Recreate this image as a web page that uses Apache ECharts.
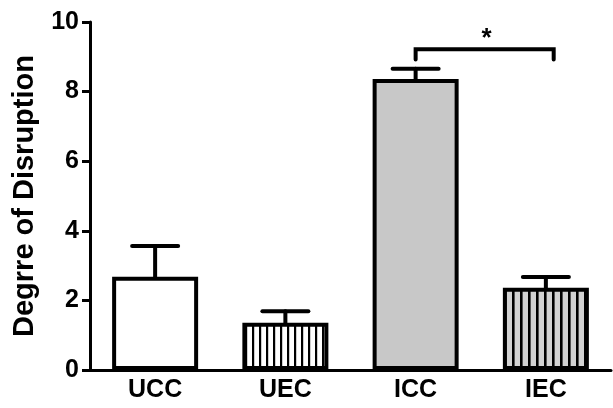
<!DOCTYPE html>
<html>
<head>
<meta charset="utf-8">
<script src="https://cdn.jsdelivr.net/npm/echarts@6/dist/echarts.min.js"></script>
<style>
html,body{margin:0;padding:0;background:#fff;}
#chart{width:613px;height:408px;}
</style>
</head>
<body>
<div id="chart"></div>
<script>
// Data
var categories = ['UCC', 'UEC', 'ICC', 'IEC'];
var means = [2.68, 1.36, 8.36, 2.36];
var errors = [0.88, 0.33, 0.30, 0.31];
var yTicks = [0, 2, 4, 6, 8, 10];
// significance bracket: from category index, to category index (fractional), bar height, leg bottom
var bracketFrom = [2];
var bracketTo = [3.06];
var bracketTop = [9.22];
var bracketLegBottom = [8.92];
var bracketLabel = ['*'];

function stripes(bg, period, lw) {
  var c = document.createElement('canvas');
  c.width = period; c.height = 8;
  var ctx = c.getContext('2d');
  ctx.fillStyle = bg; ctx.fillRect(0, 0, period, 8);
  ctx.fillStyle = '#000'; ctx.fillRect(0, 0, lw, 8);
  return { image: c, repeat: 'repeat' };
}

var fills = ['#ffffff', stripes('#ffffff', 7, 2.2), '#c8c8c8', stripes('#d2d2d2', 8.6, 2.6)];

var chart = echarts.init(document.getElementById('chart'), null, { renderer: 'canvas' });
var font = 'Liberation Sans, Arial, sans-serif';

var barData = means.map(function (v, i) {
  return { value: v, itemStyle: { color: fills[i], borderColor: '#000', borderWidth: 4 } };
});
var errData = means.map(function (v, i) { return [i, v, v + errors[i]]; });
var bracketData = bracketFrom.map(function (f, i) {
  return [f, bracketTo[i], bracketTop[i], bracketLegBottom[i]];
});

chart.setOption({
  animation: false,
  grid: { left: 90, right: 2, top: 22, bottom: 38, containLabel: false, outerBoundsMode: 'none' },
  xAxis: {
    type: 'category',
    data: categories,
    axisLine: { lineStyle: { color: '#000', width: 3 } },
    axisTick: { alignWithLabel: true, length: 7, lineStyle: { color: '#000', width: 3 } },
    axisLabel: { color: '#000', fontFamily: font, fontWeight: 'bold', fontSize: 25, margin: 8 }
  },
  yAxis: {
    type: 'value',
    min: yTicks[0], max: yTicks[yTicks.length - 1], interval: yTicks[1] - yTicks[0],
    name: 'Degrre of Disruption',
    nameLocation: 'middle',
    nameGap: 51,
    nameTextStyle: { color: '#000', fontFamily: font, fontWeight: 'bold', fontSize: 29 },
    axisLine: { show: true, lineStyle: { color: '#000', width: 3 } },
    axisTick: { show: true, length: 8, lineStyle: { color: '#000', width: 3 } },
    axisLabel: { color: '#000', fontFamily: font, fontWeight: 'bold', fontSize: 25, margin: 11 },
    splitLine: { show: false }
  },
  series: [
    {
      type: 'bar',
      data: barData,
      barWidth: 86,
      z: 2
    },
    {
      type: 'custom',
      z: 3,
      data: errData,
      renderItem: function (params, api) {
        var x = api.value(0);
        var p0 = api.coord([x, api.value(1)]);
        var p1 = api.coord([x, api.value(2)]);
        var half = 23;
        var st = { stroke: '#000', lineWidth: 4, lineCap: 'round' };
        return {
          type: 'group',
          children: [
            { type: 'line', shape: { x1: p0[0], y1: p0[1], x2: p1[0], y2: p1[1] }, style: st },
            { type: 'line', shape: { x1: p1[0] - half, y1: p1[1], x2: p1[0] + half, y2: p1[1] }, style: st }
          ]
        };
      }
    },
    {
      type: 'custom',
      z: 3,
      data: bracketData,
      renderItem: function (params, api) {
        var band = api.size([1, 0])[0];
        function xPos(v) {
          var b = Math.floor(v);
          return api.coord([b, 0])[0] + (v - b) * band;
        }
        var xa = xPos(api.value(0));
        var xb = xPos(api.value(1));
        var yt = api.coord([0, api.value(2)])[1];
        var yl = api.coord([0, api.value(3)])[1];
        var st = { stroke: '#000', lineWidth: 4, lineCap: 'round', lineJoin: 'miter', fill: null };
        return {
          type: 'group',
          children: [
            { type: 'polyline', shape: { points: [[xa, yl], [xa, yt], [xb, yt], [xb, yl]] }, style: st },
            { type: 'text', style: { text: bracketLabel[params.dataIndex], x: (xa + xb) / 2 + 2, y: yt + 3,
              align: 'center', verticalAlign: 'bottom', fill: '#000', font: 'bold 26px ' + font } }
          ]
        };
      }
    }
  ]
});
</script>
</body>
</html>
